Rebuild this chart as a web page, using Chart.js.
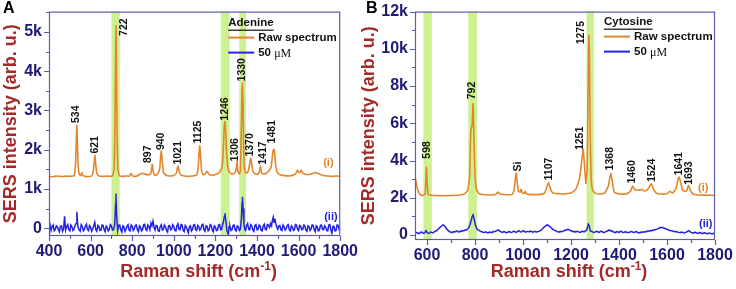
<!DOCTYPE html>
<html>
<head>
<meta charset="utf-8">
<script src="https://cdn.jsdelivr.net/npm/chart.js@4.4.1/dist/chart.umd.min.js"></script>
<style>
  html, body { margin: 0; padding: 0; background: #fff; }
  #wrap { position: relative; width: 736px; height: 289px; overflow: hidden; }
  .panel { position: absolute; top: 0; height: 289px; }
</style>
</head>
<body>
<div id="wrap">
  <div class="panel" style="left:0;width:358px"><canvas id="chartA"></canvas></div>
  <div class="panel" style="left:358px;width:378px"><canvas id="chartB"></canvas></div>
</div>
<script>
// ---- Panel A: Adenine ----
const adenineXTicks = [400, 600, 800, 1000, 1200, 1400, 1600, 1800];
const adenineYTicks = [0, 1000, 2000, 3000, 4000, 5000];
const adenineYLabels = ['0', '1k', '2k', '3k', '4k', '5k'];
const adenineBands = [[700, 740], [1226, 1268], [1315, 1347]];

// raw spectrum (i): [Raman shift, intensity]
const adenineRaw = [
  [400,1320],[420,1310],[440,1330],[460,1315],[480,1325],[500,1320],[515,1330],[522,1340],
  [528,1700],[531,2200],[534,2620],[537,2100],[540,1600],[545,1380],[552,1340],[558,1420],
  [562,1340],[575,1320],[590,1315],[605,1330],[612,1420],[617,1650],[621,1860],[625,1600],
  [630,1400],[640,1330],[660,1320],[680,1325],[695,1320],[705,1330],[713,1500],[717,2600],
  [720,4400],[722,5160],[724,4300],[727,2400],[731,1500],[738,1340],[750,1320],[770,1330],
  [785,1325],[795,1400],[800,1340],[815,1320],[830,1350],[845,1400],[860,1380],[875,1360],
  [888,1380],[893,1500],[897,1630],[901,1450],[908,1350],[920,1360],[932,1500],[937,1850],
  [940,1970],[944,1750],[950,1420],[962,1350],[980,1330],[1000,1340],[1012,1400],[1018,1550],
  [1021,1580],[1025,1480],[1032,1360],[1050,1330],[1070,1320],[1090,1330],[1110,1350],[1118,1600],
  [1122,1950],[1125,2100],[1128,1900],[1133,1500],[1140,1360],[1150,1380],[1160,1450],[1168,1380],
  [1185,1350],[1200,1370],[1220,1420],[1232,1550],[1238,2000],[1242,2550],[1246,2720],[1250,2400],
  [1254,1900],[1260,1550],[1268,1420],[1280,1380],[1292,1400],[1300,1500],[1304,1700],[1308,1450],
  [1315,1380],[1320,1450],[1325,2600],[1328,3500],[1330,3700],[1333,3200],[1336,2000],[1340,1500],
  [1348,1400],[1355,1420],[1362,1550],[1366,1700],[1370,1780],[1374,1650],[1380,1450],[1392,1380],
  [1405,1370],[1412,1450],[1417,1580],[1421,1420],[1430,1380],[1445,1400],[1455,1450],[1462,1500],
  [1468,1550],[1473,1800],[1478,1980],[1482,2010],[1486,1850],[1490,1600],[1497,1420],[1510,1360],
  [1530,1340],[1560,1330],[1585,1380],[1595,1480],[1600,1420],[1608,1430],[1613,1480],[1620,1400],
  [1640,1360],[1660,1380],[1680,1420],[1700,1380],[1720,1340],[1740,1330],[1760,1320],[1780,1330],
  [1800,1320]
];

// 50 uM (ii)
const adenine50 = [
  [400,20],[405,90],[410,-60],[415,40],[420,80],[425,-70],[430,-40],[435,60],[440,30],[445,-30],
  [450,-90],[455,50],[460,60],[465,-80],[470,-20],[475,300],[480,-50],[485,40],[490,90],[495,-40],
  [500,-70],[505,80],[510,40],[515,-60],[520,-30],[525,70],[530,120],[534,420],[538,60],[544,-40],
  [550,-80],[555,90],[560,50],[565,-70],[570,-40],[575,60],[580,100],[585,-30],[590,-60],[595,70],
  [600,30],[605,-80],[610,-20],[615,60],[620,150],[625,-40],[630,-80],[635,70],[640,40],[645,-60],
  [650,-50],[655,80],[660,70],[665,-40],[670,-90],[675,50],[680,20],[685,-70],[690,-30],[695,90],
  [700,60],[705,-50],[710,-40],[716,100],[720,600],[722,880],[725,350],[730,-60],[735,70],[740,80],
  [745,-40],[750,-100],[755,60],[760,40],[765,-80],[770,-30],[775,50],[780,90],[785,-50],[790,-70],
  [795,80],[800,50],[805,-60],[810,-20],[815,70],[820,80],[825,-40],[830,-90],[835,60],[840,30],
  [845,-70],[850,-40],[855,90],[860,100],[865,-30],[870,-60],[875,80],[880,40],[885,-40],[890,130],
  [895,60],[900,180],[905,20],[910,-50],[915,70],[920,60],[925,-70],[930,-80],[935,50],[940,90],
  [945,-50],[950,-30],[955,80],[960,40],[965,-60],[970,-100],[975,60],[980,70],[985,-40],[990,-20],
  [995,90],[1000,50],[1005,-60],[1010,-70],[1015,60],[1020,110],[1025,-30],[1030,-40],[1035,90],[1040,80],
  [1045,-60],[1050,-90],[1055,70],[1060,30],[1065,-50],[1070,-120],[1075,40],[1080,60],[1085,-70],[1090,-30],
  [1095,80],[1100,90],[1105,-40],[1110,-60],[1115,70],[1120,40],[1125,-50],[1130,-20],[1135,80],[1140,100],
  [1145,-40],[1150,-80],[1155,60],[1160,50],[1165,-70],[1170,-40],[1175,90],[1180,70],[1185,-50],[1190,-90],
  [1195,60],[1200,30],[1205,-60],[1210,-50],[1215,80],[1220,90],[1225,-40],[1230,-30],[1234,80],[1238,150],
  [1243,300],[1246,380],[1250,200],[1255,-60],[1262,-150],[1266,40],[1270,50],[1275,-60],[1280,-40],[1285,70],
  [1290,80],[1295,-50],[1300,-70],[1305,60],[1310,40],[1315,-60],[1320,-30],[1325,250],[1328,650],[1330,800],
  [1333,500],[1337,100],[1341,-40],[1345,-60],[1350,70],[1355,120],[1360,-30],[1365,-40],[1370,90],[1375,60],
  [1380,-50],[1385,-80],[1390,70],[1395,90],[1400,-40],[1405,-30],[1410,80],[1415,50],[1420,-60],[1425,-70],
  [1430,60],[1435,100],[1440,-30],[1445,-40],[1450,90],[1455,80],[1460,20],[1465,120],[1470,60],[1474,200],
  [1478,280],[1482,150],[1486,240],[1490,120],[1495,30],[1500,-30],[1505,60],[1510,70],[1515,-40],[1520,-60],
  [1525,80],[1530,40],[1535,-50],[1540,-20],[1545,70],[1550,90],[1555,-40],[1560,-70],[1565,60],[1570,30],
  [1575,-60],[1580,-40],[1585,90],[1590,80],[1595,-30],[1600,-60],[1605,70],[1610,50],[1615,-40],[1620,-30],
  [1625,80],[1630,60],[1635,-50],[1640,-80],[1645,60],[1650,40],[1655,-60],[1660,-20],[1665,80],[1670,70],
  [1675,-40],[1680,-90],[1685,60],[1690,30],[1695,-70],[1700,-50],[1705,70],[1710,80],[1715,-30],[1720,-40],
  [1725,60],[1730,20],[1735,-60],[1740,-70],[1745,80],[1750,90],[1755,-50],[1760,-130],[1765,50],[1770,40],
  [1775,-70],[1780,-60],[1785,80],[1790,70],[1795,-40],[1800,-20]
];

// peak labels: text, x, y where the rotated text starts
const adeninePeaks = [
  ['534', 530, 2680], ['621', 622, 1900], ['722', 759, 4900], ['897', 876, 1660],
  ['940', 941, 1990], ['1021', 1019, 1620], ['1125', 1119, 2160], ['1246', 1245, 2740],
  ['1306', 1296, 1700], ['1330', 1330, 3740], ['1370', 1369, 1825], ['1417', 1428, 1617],
  ['1481', 1475, 2160]
];

// ---- Panel B: Cytosine ----
const cytosineXTicks = [600, 800, 1000, 1200, 1400, 1600, 1800];
const cytosineYTicks = [0, 2000, 4000, 6000, 8000, 10000, 12000];
const cytosineYLabels = ['0', '2k', '4k', '6k', '8k', '10k', '12k'];
const cytosineBands = [[585, 620], [772, 808], [1265, 1295]];

const cytosineRaw = [
  [550,3100],[555,2800],[560,2500],[567,2250],[575,2150],[585,2130],[592,2200],[595,2800],
  [598,3640],[601,2700],[605,2200],[615,2130],[640,2120],[670,2110],[700,2120],[730,2130],
  [755,2200],[770,2400],[778,3200],[781,5000],[784,5700],[788,5900],[792,7060],[795,5500],
  [799,3500],[805,2500],[815,2250],[830,2170],[860,2150],[885,2170],[895,2300],[905,2200],
  [930,2160],[955,2180],[963,2400],[968,3000],[972,3340],[976,2800],[981,2350],[988,2300],
  [992,2450],[998,2250],[1006,2250],[1010,2350],[1015,2200],[1040,2170],[1070,2180],[1090,2250],
  [1100,2600],[1107,2810],[1114,2500],[1125,2250],[1150,2220],[1170,2200],[1200,2250],[1220,2450],
  [1235,3000],[1245,4000],[1251,4590],[1256,3800],[1262,2770],[1267,3500],[1270,6500],[1273,10000],
  [1275,10720],[1277,9500],[1280,5500],[1284,3000],[1290,2400],[1300,2250],[1320,2200],[1340,2250],
  [1355,2600],[1362,3100],[1366,3290],[1372,2900],[1380,2300],[1400,2200],[1430,2200],[1448,2350],
  [1457,2630],[1465,2450],[1480,2400],[1495,2450],[1505,2350],[1520,2450],[1535,2760],[1542,2500],
  [1555,2250],[1575,2200],[1600,2220],[1612,2350],[1622,2250],[1638,2500],[1646,3000],[1651,3110],
  [1657,2800],[1666,2400],[1680,2350],[1690,2670],[1697,2400],[1708,2200],[1730,2150],[1760,2140],
  [1800,2130]
];

const cytosine50 = [
  [550,80],[555,130],[560,120],[565,70],[570,90],[575,160],[580,150],[585,90],[590,110],[596,230],
  [600,150],[605,80],[610,100],[615,160],[620,140],[625,110],[630,170],[635,210],[640,220],[645,290],
  [650,350],[655,420],[660,470],[664,520],[668,530],[672,500],[675,450],[680,360],[685,270],[690,220],
  [695,170],[700,150],[705,130],[710,180],[715,150],[720,190],[725,220],[730,170],[735,160],[740,220],
  [745,190],[750,240],[755,230],[760,280],[765,270],[770,330],[775,420],[782,680],[788,980],[792,1080],
  [796,880],[802,520],[806,380],[810,290],[815,260],[820,220],[825,180],[830,170],[835,130],[840,140],
  [845,170],[850,130],[855,110],[860,160],[865,150],[870,120],[875,180],[880,170],[885,210],[890,230],
  [897,270],[901,230],[905,190],[910,160],[915,140],[920,180],[925,160],[930,120],[935,130],[940,180],
  [945,170],[950,130],[955,150],[960,200],[965,190],[970,140],[975,170],[980,220],[985,210],[990,160],
  [995,170],[1000,230],[1005,200],[1010,150],[1015,180],[1020,190],[1025,160],[1030,210],[1035,190],[1040,150],
  [1045,170],[1050,200],[1055,150],[1060,180],[1065,190],[1070,220],[1075,250],[1080,320],[1085,390],[1090,450],
  [1095,490],[1100,540],[1104,530],[1108,490],[1112,460],[1116,400],[1120,350],[1125,300],[1130,250],[1135,240],
  [1140,190],[1145,170],[1150,150],[1155,190],[1160,170],[1165,200],[1170,210],[1175,260],[1180,250],[1185,300],
  [1190,290],[1195,250],[1200,230],[1205,200],[1210,170],[1215,190],[1220,150],[1225,200],[1230,180],[1235,140],
  [1240,140],[1245,200],[1250,190],[1255,170],[1260,220],[1265,260],[1268,370],[1272,580],[1276,490],[1280,220],
  [1285,200],[1290,170],[1295,130],[1300,150],[1305,200],[1310,190],[1315,140],[1320,160],[1325,210],[1330,180],
  [1335,130],[1340,150],[1345,180],[1350,200],[1355,240],[1360,270],[1365,220],[1370,230],[1375,170],[1380,150],
  [1385,130],[1390,180],[1395,160],[1400,140],[1405,190],[1410,200],[1415,140],[1420,130],[1425,170],[1430,160],
  [1435,120],[1440,140],[1445,150],[1450,190],[1455,180],[1460,130],[1465,140],[1470,180],[1475,160],[1480,120],
  [1485,110],[1490,150],[1495,130],[1500,170],[1505,150],[1510,190],[1515,180],[1520,220],[1525,200],[1530,240],
  [1535,220],[1540,260],[1545,240],[1550,290],[1555,300],[1560,330],[1565,350],[1570,400],[1575,390],[1580,410],
  [1585,370],[1590,360],[1595,320],[1600,310],[1605,270],[1610,260],[1615,230],[1620,230],[1625,200],[1630,190],
  [1635,170],[1640,180],[1645,150],[1650,140],[1655,120],[1660,160],[1665,140],[1670,110],[1675,120],[1680,150],
  [1685,180],[1689,230],[1692,230],[1696,180],[1700,140],[1705,120],[1710,100],[1715,140],[1720,130],[1725,90],
  [1730,90],[1735,130],[1740,120],[1745,80],[1750,80],[1755,120],[1760,110],[1765,70],[1770,70],[1775,110],
  [1780,100],[1785,60],[1790,60],[1795,100],[1800,80]
];

const cytosinePeaks = [
  ['598', 600, 4100], ['792', 790, 7290], ['Si', 978, 3410], ['1107', 1110, 2930],
  ['1251', 1237, 4560], ['1275', 1243, 10240], ['1368', 1364, 3470], ['1460', 1453, 2760],
  ['1524', 1540, 2840], ['1641', 1651, 3200], ['1693', 1693, 2700]
];

const ORANGE = '#e3862b';
const BLUE = '#2323e0';
const NAVY = '#1f1b74';
const DARKRED = '#a32a28';
const FRAME = '#5c5cae';
const BAND = '#cdf190';

// draws the green bands, frame, ticks, peak labels, legend and titles
const panelPlugin = {
  id: 'panelDecor',
  beforeDatasetsDraw(chart) {
    const o = chart.options.plugins.panelDecor;
    const { ctx, chartArea: a, scales: { x } } = chart;
    ctx.save();
    ctx.fillStyle = BAND;
    o.bands.forEach(([b0, b1]) => {
      const p0 = x.getPixelForValue(b0), p1 = x.getPixelForValue(b1);
      ctx.fillRect(p0, a.top, p1 - p0, a.bottom - a.top);
    });
    ctx.restore();
  },
  afterDraw(chart) {
    const o = chart.options.plugins.panelDecor;
    const { ctx, chartArea: a, scales: { x, y } } = chart;
    ctx.save();

    // frame
    ctx.strokeStyle = FRAME;
    ctx.lineWidth = 1.2;
    ctx.strokeRect(a.left + 0.5, a.top + 0.5, a.right - a.left - 1, a.bottom - a.top - 1);

    // ticks (major + minor)
    ctx.beginPath();
    o.xTicks.forEach(v => {
      const px = Math.round(x.getPixelForValue(v)) + 0.5;
      ctx.moveTo(px, a.bottom); ctx.lineTo(px, a.bottom + 5);
      const m = v + 100;
      if (m < x.max) {
        const pm = Math.round(x.getPixelForValue(m)) + 0.5;
        ctx.moveTo(pm, a.bottom); ctx.lineTo(pm, a.bottom + 3);
      }
    });
    if (o.xTicks[0] - 100 > x.min) {
      const pm = Math.round(x.getPixelForValue(o.xTicks[0] - 100)) + 0.5;
      ctx.moveTo(pm, a.bottom); ctx.lineTo(pm, a.bottom + 3);
    }
    const ystep = o.yTicks[1] - o.yTicks[0];
    o.yTicks.forEach(v => {
      const py = Math.round(y.getPixelForValue(v)) + 0.5;
      ctx.moveTo(a.left, py); ctx.lineTo(a.left - 5, py);
      const m = v + ystep / 2;
      if (m < y.max) {
        const pm = Math.round(y.getPixelForValue(m)) + 0.5;
        ctx.moveTo(a.left, pm); ctx.lineTo(a.left - 3, pm);
      }
    });
    ctx.stroke();

    // peak labels
    ctx.fillStyle = '#111';
    ctx.font = 'bold 10.5px "Liberation Sans", Arial, sans-serif';
    ctx.textAlign = 'left';
    ctx.textBaseline = 'middle';
    o.peaks.forEach(([t, px, py]) => {
      ctx.save();
      ctx.translate(x.getPixelForValue(px), y.getPixelForValue(py));
      ctx.rotate(-Math.PI / 2);
      ctx.fillText(t, 0, 0);
      ctx.restore();
    });

    // series tags (i) / (ii)
    ctx.font = 'bold 11px "Liberation Sans", Arial, sans-serif';
    ctx.fillStyle = ORANGE;
    ctx.fillText('(i)', a.right - 17, o.tagI);
    ctx.fillStyle = BLUE;
    ctx.fillText('(ii)', a.right - 16, o.tagII);

    // legend
    const lx = a.right - o.legendDx, ly = a.top + o.legendDy;
    ctx.fillStyle = '#111';
    ctx.font = 'bold 11.5px "Liberation Sans", Arial, sans-serif';
    ctx.fillText(o.name, lx, ly);
    const w = ctx.measureText(o.name).width;
    ctx.fillRect(lx, ly + 7, w, 1.2);
    ctx.lineWidth = 2;
    ctx.strokeStyle = ORANGE;
    ctx.beginPath(); ctx.moveTo(lx, ly + 15); ctx.lineTo(lx + 26, ly + 15); ctx.stroke();
    ctx.strokeStyle = BLUE;
    ctx.beginPath(); ctx.moveTo(lx, ly + 30); ctx.lineTo(lx + 26, ly + 30); ctx.stroke();
    ctx.fillText('Raw spectrum', lx + 30, ly + 15);
    ctx.fillText('50 ', lx + 30, ly + 30);
    const w50 = ctx.measureText('50 ').width;
    ctx.font = '12px "Liberation Serif", "Times New Roman", serif';
    ctx.fillText('\u03bcM', lx + 30 + w50, ly + 31);

    // x title with superscript
    ctx.fillStyle = DARKRED;
    ctx.textBaseline = 'alphabetic';
    const f1 = 'bold 18px "Liberation Sans", Arial, sans-serif';
    const f2 = 'bold 12px "Liberation Sans", Arial, sans-serif';
    ctx.font = f1;
    const t1 = 'Raman shift (cm', t3 = ')';
    const w1 = ctx.measureText(t1).width, w3 = ctx.measureText(t3).width;
    ctx.font = f2;
    const w2 = ctx.measureText('-1').width;
    const cx = (a.left + a.right) / 2 + 4;
    let tx = cx - (w1 + w2 + w3) / 2;
    const base = 277;
    ctx.font = f1; ctx.fillText(t1, tx, base); tx += w1;
    ctx.font = f2; ctx.fillText('-1', tx, base - 7); tx += w2;
    ctx.font = f1; ctx.fillText(t3, tx, base);

    // panel letter
    ctx.fillStyle = '#000';
    ctx.font = 'bold 16px "Liberation Sans", Arial, sans-serif';
    ctx.textBaseline = 'top';
    ctx.fillText(o.letter, o.letterX, 1);
    ctx.restore();
  }
};

function makePanel(id, cfg) {
  const ctx = document.getElementById(id).getContext('2d');
  const tickFont = { family: '"Liberation Sans", Arial, sans-serif', size: 16, weight: 'bold' };
  return new Chart(ctx, {
    type: 'line',
    data: {
      datasets: [
        { data: cfg.raw.map(([px, py]) => ({ x: px, y: py })), borderColor: ORANGE, borderWidth: 1.6, tension: 0.1 },
        { data: cfg.low.map(([px, py]) => ({ x: px, y: py })), borderColor: BLUE, borderWidth: 1.5, tension: 0 }
      ]
    },
    options: {
      responsive: true,
      maintainAspectRatio: false,
      animation: false,
      events: [],
      elements: { point: { radius: 0 } },
      layout: { padding: cfg.padding },
      plugins: {
        legend: { display: false },
        tooltip: { enabled: false },
        panelDecor: cfg.decor
      },
      scales: {
        x: {
          type: 'linear',
          min: cfg.xMin, max: cfg.xMax,
          afterBuildTicks: s => { s.ticks = cfg.xTicks.map(v => ({ value: v })); },
          afterFit: s => { s.height = cfg.xHeight; },
          grid: { display: false, drawTicks: true, tickLength: 6 },
          border: { display: false },
          ticks: {
            font: tickFont, color: NAVY, padding: 0, maxRotation: 0, autoSkip: false,
            callback: v => String(v)
          }
        },
        y: {
          type: 'linear',
          min: cfg.yMin, max: cfg.yMax,
          afterBuildTicks: s => { s.ticks = cfg.yTicks.map(v => ({ value: v })); },
          afterFit: s => { s.width = cfg.yWidth; },
          grid: { display: false, drawTicks: true, tickLength: 5 },
          border: { display: false },
          ticks: {
            font: tickFont, color: NAVY, padding: 2, autoSkip: false,
            callback: v => cfg.yLabels[cfg.yTicks.indexOf(v)]
          },
          title: {
            display: true, text: 'SERS intensity (arb. u.)', color: DARKRED, padding: 0,
            font: { family: '"Liberation Sans", Arial, sans-serif', size: 18, weight: 'bold' }
          }
        }
      }
    },
    plugins: [panelPlugin]
  });
}

makePanel('chartA', {
  raw: adenineRaw, low: adenine50,
  xMin: 400, xMax: 1800, yMin: -200, yMax: 5520,
  xTicks: adenineXTicks, yTicks: adenineYTicks, yLabels: adenineYLabels,
  padding: { left: 0, top: 7, right: 9, bottom: 0 }, xHeight: 53, yWidth: 49,
  decor: {
    bands: adenineBands, peaks: adeninePeaks, xTicks: adenineXTicks, yTicks: adenineYTicks,
    name: 'Adenine', legendDx: 112, legendDy: 11, tagI: 163, tagII: 217,
    letter: 'A', letterX: 3
  }
});

makePanel('chartB', {
  raw: cytosineRaw, low: cytosine50,
  xMin: 550, xMax: 1800, yMin: -270, yMax: 12000,
  xTicks: cytosineXTicks, yTicks: cytosineYTicks, yLabels: cytosineYLabels,
  padding: { left: 0, top: 10, right: 21, bottom: 0 }, xHeight: 49, yWidth: 57,
  decor: {
    bands: cytosineBands, peaks: cytosinePeaks, xTicks: cytosineXTicks, yTicks: cytosineYTicks,
    name: 'Cytosine', legendDx: 111, legendDy: 10, tagI: 188, tagII: 224,
    letter: 'B', letterX: 8
  }
});
</script>
</body>
</html>
